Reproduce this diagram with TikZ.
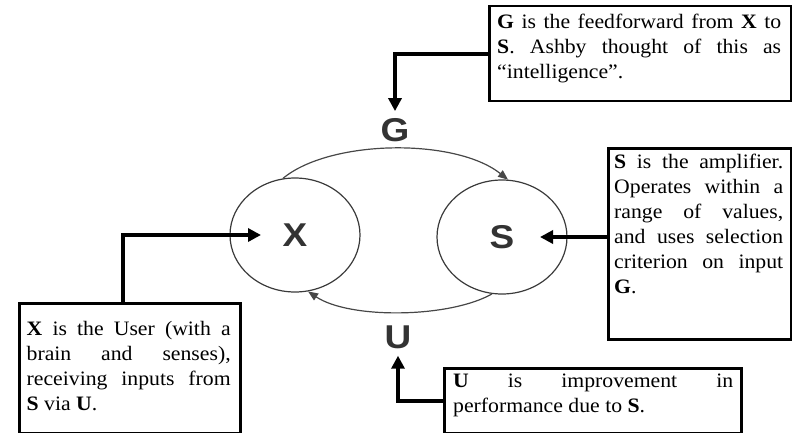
\documentclass[tikz,border=0pt]{standalone}
\usepackage{fontspec}
\setmainfont{Liberation Serif}[FakeStretch=1.06]
\newfontfamily\labfont{Liberation Sans}[FakeStretch=1.12]
\usetikzlibrary{shapes.geometric,arrows.meta}
\definecolor{ringgray}{HTML}{3A3A3A}
\definecolor{arcgray}{HTML}{474747}
\definecolor{labgray}{HTML}{333333}
\tolerance=10000
\hyphenpenalty=10000
\tikzset{
  ring/.style={ellipse, draw=ringgray, line width=1.2pt, inner sep=0pt,
    minimum width=130pt, minimum height=114pt,
    font=\labfont\bfseries\fontsize{33}{36}\selectfont, text=labgray},
  lab/.style={font=\labfont\bfseries\fontsize{33}{36}\selectfont, text=labgray, inner sep=7pt},
  infobox/.style={draw=black, line width=2.5pt, anchor=north west, inner sep=0pt},
  infotext/.style={anchor=north west, inner sep=0pt, align=justify,
    font=\fontsize{20.5}{25}\selectfont},
  fatarrow/.style={draw=black, line width=4pt, line join=miter,
    -{Triangle[length=13pt,width=13pt]}},
  thinarc/.style={draw=arcgray, line width=1.2pt,
    -{Triangle[length=10pt,width=8pt]}}
}
\begin{document}
\begin{tikzpicture}[x=1pt,y=-1pt]
\useasboundingbox (0,0) rectangle (792,433);
% ellipses
\node[ring] (X) at (295,235) {X};
\node[ring] (S) at (502,237) {S};
% labels
\node[lab] (G) at (395,130) {G};
\node[lab] (U) at (398,337) {U};
% arcs
\draw[thinarc] (X.102) .. controls +(47,-39) and +(-53,-42) .. (S.84);
\draw[thinarc] (S.260) .. controls +(-42,24) and +(42,28) .. (X.283);
% boxes
\node[infobox, minimum width=302pt, minimum height=95pt] (gbox) at (488,5) {};
\node[infobox, minimum width=183pt, minimum height=191pt] (sbox) at (607,147) {};
\node[infobox, minimum width=221pt, minimum height=130pt] (xbox) at (18,302) {};
\node[infobox, minimum width=297pt, minimum height=65pt] (ubox) at (443,367) {};
% texts
\node[infotext, text width=284pt] (gtxt) at (497,10.5) {\strut\textbf{G} is the feedforward from \textbf{X} to\linebreak \textbf{S}. Ashby thought of this as\linebreak “intelligence”.};
\node[infotext, text width=169pt] (stxt) at (614,150.5) {\strut\textbf{S} is the amplifier.\linebreak Operates within a\linebreak range of values,\linebreak and uses selection\linebreak criterion on input\linebreak \textbf{G}.};
\node[infotext, text width=204pt] (xtxt) at (26.5,317.5) {\strut\textbf{X} is the User (with a\linebreak brain and senses),\linebreak receiving inputs from\linebreak \textbf{S} via \textbf{U}.};
\node[infotext, text width=280pt] (utxt) at (453,369.5) {\strut\textbf{U} is improvement in\linebreak performance due to \textbf{S}.};
% thick arrows
\draw[fatarrow] (gbox.west) -| (G.north);
\draw[fatarrow] (ubox.west) -| (U.south);
\draw[fatarrow, shorten >=34pt] ([xshift=-6.5pt]xbox.north) |- (X.center);
\draw[fatarrow, shorten >=38pt] (sbox.west |- S.center) -- (S.center);
\end{tikzpicture}
\end{document}
